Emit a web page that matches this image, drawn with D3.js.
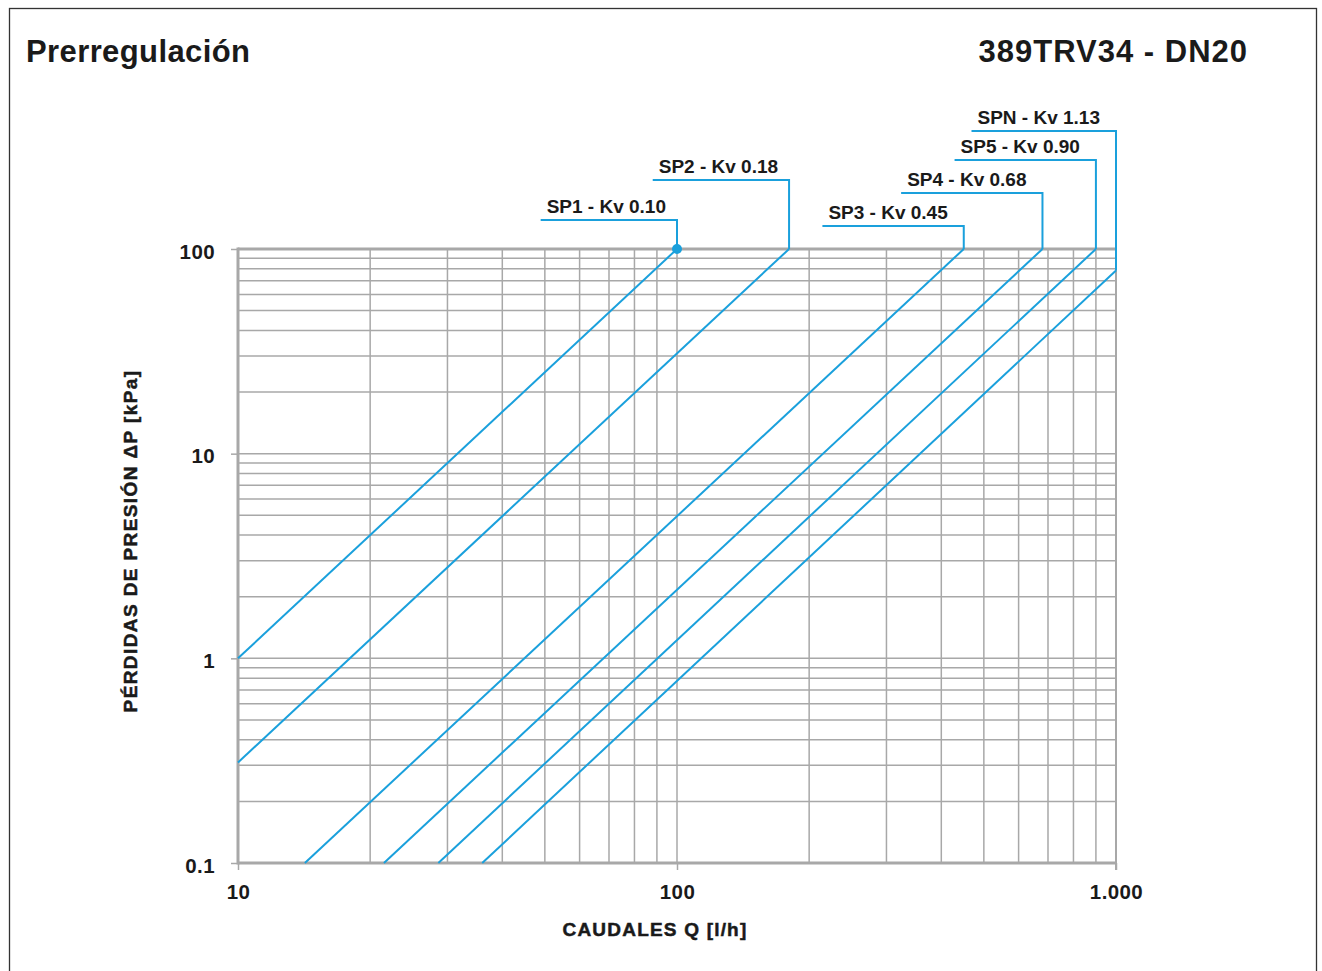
<!DOCTYPE html>
<html>
<head>
<meta charset="utf-8">
<script src="https://cdn.jsdelivr.net/npm/d3@7"></script>
<style>
  body { margin: 0; background: #fff; }
  text { font-family: "Liberation Sans", Arial, sans-serif; font-weight: bold; fill: #1a1a1a; }
</style>
</head>
<body>
<script>
var w = 1322;
var h = 971;

// series (endpoints of each straight log-log line)
var seriesNames = ["SP1", "SP2", "SP3", "SP4", "SP5", "SPN"];
var kvValues = [0.10, 0.18, 0.45, 0.68, 0.90, 1.13];
var qStart = [10, 10, 14.2, 21.5, 28.6, 36];
var dpStart = [1, 0.31, 0.1, 0.1, 0.1, 0.1];
var qEnd = [100, 180, 450, 680, 900, 1000];
var dpEnd = [100, 100, 100, 100, 100, 78.5];

var xTicks = [10, 100, 1000];
var xTickLabels = ["10", "100", "1.000"];
var yTicks = [0.1, 1, 10, 100];
var yTickLabels = ["0.1", "1", "10", "100"];

// label leader heights (layout)
var leaderY = [220, 180, 226, 193, 160, 131];

var margin = { top: 249, left: 238, right: 206, bottom: 108 };
var width = w - margin.left - margin.right;
var height = h - margin.top - margin.bottom;

var blue = "#1aa0dc";
var gridCol = "#a8a8a8";

var x = d3.scaleLog().domain([10, 1000]).range([margin.left, margin.left + width]);
var y = d3.scaleLog().domain([0.1, 100]).range([margin.top + height, margin.top]);

var svg = d3.select("body").append("svg")
  .attr("width", w)
  .attr("height", h);

// outer frame
svg.append("rect")
  .attr("x", 9.5).attr("y", 8.5)
  .attr("width", 1307).attr("height", 980)
  .attr("fill", "none").attr("stroke", "#333").attr("stroke-width", 1.3);

svg.append("text").attr("x", 26).attr("y", 62)
  .attr("font-size", 31).attr("letter-spacing", 0.4)
  .text("Prerregulación");
svg.append("text").attr("x", 1248).attr("y", 62)
  .attr("text-anchor", "end")
  .attr("font-size", 31).attr("letter-spacing", 1)
  .text("389TRV34 - DN20");

// grid
var xGrid = [];
[10, 100].forEach(function (d) {
  for (var k = 2; k <= 9; k++) xGrid.push(d * k);
});
var yGrid = [];
[0.1, 1, 10].forEach(function (d) {
  for (var k = 2; k <= 9; k++) yGrid.push(d * k);
});
yGrid = yGrid.concat([1, 10]);
xGrid = xGrid.concat([100]);

var grid = svg.append("g");
grid.selectAll(".vg").data(xGrid).enter().append("line")
  .attr("x1", function (d) { return x(d); })
  .attr("x2", function (d) { return x(d); })
  .attr("y1", y(0.1)).attr("y2", y(100))
  .attr("stroke", gridCol).attr("stroke-width", 1.5);
grid.selectAll(".hg").data(yGrid).enter().append("line")
  .attr("x1", x(10)).attr("x2", x(1000))
  .attr("y1", function (d) { return y(d); })
  .attr("y2", function (d) { return y(d); })
  .attr("stroke", gridCol).attr("stroke-width", 1.5);

// right edge
grid.append("line")
  .attr("x1", x(1000)).attr("x2", x(1000))
  .attr("y1", y(100)).attr("y2", y(0.1) + 7)
  .attr("stroke", gridCol).attr("stroke-width", 2);

// frame of plot (left, top, bottom)
grid.append("line").attr("x1", x(10)).attr("x2", x(1000))
  .attr("y1", y(100)).attr("y2", y(100))
  .attr("stroke", gridCol).attr("stroke-width", 3);
grid.append("line").attr("x1", x(10)).attr("x2", x(1000))
  .attr("y1", y(0.1)).attr("y2", y(0.1))
  .attr("stroke", gridCol).attr("stroke-width", 3);
grid.append("line").attr("x1", x(10)).attr("x2", x(10))
  .attr("y1", y(100) - 1.5).attr("y2", y(0.1) + 1.5)
  .attr("stroke", gridCol).attr("stroke-width", 3);

// axes
var xAxis = d3.axisBottom(x).tickValues(xTicks)
  .tickFormat(function (d, i) { return xTickLabels[i]; })
  .tickSize(7).tickPadding(14);
var gx = svg.append("g").attr("transform", "translate(0," + y(0.1) + ")").call(xAxis);
gx.select(".domain").remove();
gx.selectAll("line").attr("stroke", gridCol).attr("stroke-width", 1.5);
gx.selectAll("text").attr("font-size", 20.5).attr("letter-spacing", 0.4).attr("fill", "#111");

var yAxis = d3.axisLeft(y).tickValues(yTicks)
  .tickFormat(function (d, i) { return yTickLabels[i]; })
  .tickSize(7).tickPadding(16);
var gy = svg.append("g").attr("transform", "translate(" + x(10) + ",0)").call(yAxis);
gy.select(".domain").remove();
gy.selectAll("line").attr("stroke", gridCol).attr("stroke-width", 1.5);
gy.selectAll("text").attr("font-size", 20.5).attr("letter-spacing", 0.4)
  .attr("fill", "#111").attr("dy", "0.45em");

svg.append("text")
  .attr("transform", "translate(137,541) rotate(-90)")
  .attr("text-anchor", "middle").attr("font-size", 19)
  .attr("letter-spacing", 1.4)
  .attr("stroke", "#1a1a1a").attr("stroke-width", 0.5)
  .text("PÉRDIDAS DE PRESIÓN ΔP [kPa]");
svg.append("text")
  .attr("x", 655).attr("y", 936)
  .attr("text-anchor", "middle").attr("font-size", 19)
  .attr("letter-spacing", 1.2)
  .attr("stroke", "#1a1a1a").attr("stroke-width", 0.5)
  .text("CAUDALES Q [l/h]");

// series lines
var data = seriesNames.map(function (n, i) {
  return { name: n, kv: kvValues[i], q0: qStart[i], p0: dpStart[i], q1: qEnd[i], p1: dpEnd[i], ly: leaderY[i] };
});

var lines = svg.append("g");
lines.selectAll(".s").data(data).enter().append("line")
  .attr("x1", function (d) { return x(d.q0); })
  .attr("y1", function (d) { return y(d.p0); })
  .attr("x2", function (d) { return x(d.q1); })
  .attr("y2", function (d) { return y(d.p1); })
  .attr("stroke", blue).attr("stroke-width", 2);

// leaders + labels
data.forEach(function (d, i) {
  var ex = x(d.q1);
  var ey = y(d.p1);
  var off = i < 2 ? 11 : 16;
  var t = svg.append("text")
    .attr("x", ex - off).attr("y", d.ly - 7)
    .attr("text-anchor", "end").attr("font-size", 19)
    .text(d.name + " - Kv " + d.kv.toFixed(2));
  var tw = t.node().getComputedTextLength();
  svg.append("polyline")
    .attr("points", [[ex - off - tw - 6, d.ly], [ex, d.ly], [ex, ey]].join(" "))
    .attr("fill", "none").attr("stroke", blue).attr("stroke-width", 2);
  if (i === 0) {
    svg.append("circle").attr("cx", ex).attr("cy", ey).attr("r", 5).attr("fill", blue);
  }
});
</script>
</body>
</html>
